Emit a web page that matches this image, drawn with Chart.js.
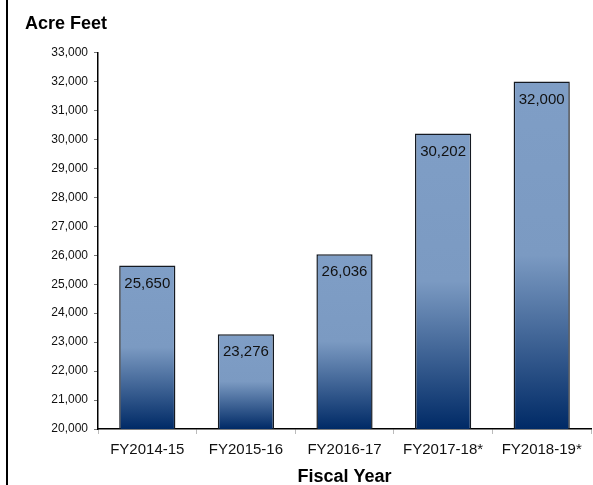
<!DOCTYPE html>
<html>
<head>
<meta charset="utf-8">
<script src="https://cdn.jsdelivr.net/npm/chart.js@4.4.1/dist/chart.umd.min.js"></script>
<style>
  html, body { margin: 0; padding: 0; background: #fff; }
  #wrap { width: 593px; height: 485px; }
</style>
</head>
<body>
<div id="wrap"><canvas id="chart" width="593" height="485"></canvas></div>
<script>
// Water deliveries by fiscal year
const fiscalYears = ['FY2014-15', 'FY2015-16', 'FY2016-17', 'FY2017-18*', 'FY2018-19*'];
const acreFeet = [25650, 23276, 26036, 30202, 32000];
const yMin = 20000;
const yMax = 33000;
const yStep = 1000;

const FONT = '"Liberation Sans", Arial, sans-serif';

// Light blue on top, fading to navy at the base of each bar
function barGradient(ctx) {
    const chart = ctx.chart;
    if (!chart.chartArea) return '#7f9ec5';
    const y = chart.scales.y;
    const top = y.getPixelForValue(ctx.raw);
    const bottom = y.getPixelForValue(yMin);
    const g = chart.ctx.createLinearGradient(0, top, 0, bottom);
    g.addColorStop(0, '#7f9ec6');
    g.addColorStop(0.5, '#7b9ac2');
    g.addColorStop(1, '#002a66');
    return g;
}

// Thin frame line down the left edge
const leftFrame = {
    id: 'leftFrame',
    beforeDraw(chart) {
        const c = chart.ctx;
        c.save();
        c.fillStyle = '#000';
        c.fillRect(6, 0, 2, chart.height);
        c.restore();
    }
};

// Value printed just inside the top of each bar
const barValues = {
    id: 'barValues',
    afterDatasetsDraw(chart) {
        const c = chart.ctx;
        const meta = chart.getDatasetMeta(0);
        c.save();
        c.font = '15px ' + FONT;
        c.fillStyle = '#111';
        c.textAlign = 'center';
        c.textBaseline = 'middle';
        meta.data.forEach((bar, i) => {
            c.fillText(acreFeet[i].toLocaleString('en-US'), bar.x, bar.y + 18);
        });
        c.restore();
    }
};

new Chart(document.getElementById('chart'), {
    type: 'bar',
    data: {
        labels: fiscalYears,
        datasets: [{
            data: acreFeet,
            backgroundColor: barGradient,
            borderColor: '#151a22',
            borderWidth: 1.5,
            borderSkipped: false,
            categoryPercentage: 1,
            barPercentage: 0.57
        }]
    },
    options: {
        responsive: false,
        animation: false,
        layout: { padding: { left: 25, right: 2, top: 0, bottom: 0 } },
        plugins: {
            legend: { display: false },
            tooltip: { enabled: false },
            title: {
                display: true,
                text: 'Acre Feet',
                align: 'start',
                color: '#000',
                font: { family: FONT, size: 18, weight: 'bold' },
                padding: { top: 13, bottom: 18 }
            }
        },
        scales: {
            x: {
                offset: true,
                grid: {
                    offset: true,
                    drawOnChartArea: false,
                    drawTicks: true,
                    tickLength: 5,
                    tickColor: '#bbb'
                },
                border: { color: '#000', width: 1.5 },
                ticks: {
                    color: '#111',
                    font: { family: FONT, size: 15 },
                    padding: 7,
                    maxRotation: 0
                },
                title: {
                    display: true,
                    text: 'Fiscal Year',
                    color: '#000',
                    font: { family: FONT, size: 18, weight: 'bold' },
                    padding: { top: 4, bottom: -3 }
                },
                afterFit(scale) { scale.height = 56; }
            },
            y: {
                min: yMin,
                max: yMax,
                ticks: {
                    stepSize: yStep,
                    color: '#111',
                    font: { family: FONT, size: 12 },
                    padding: 6
                },
                grid: {
                    drawOnChartArea: false,
                    drawTicks: true,
                    tickLength: 4,
                    tickColor: '#777'
                },
                border: { color: '#000', width: 1.5 },
                afterFit(scale) { scale.width = 73; }
            }
        }
    },
    plugins: [leftFrame, barValues]
});
</script>
</body>
</html>
